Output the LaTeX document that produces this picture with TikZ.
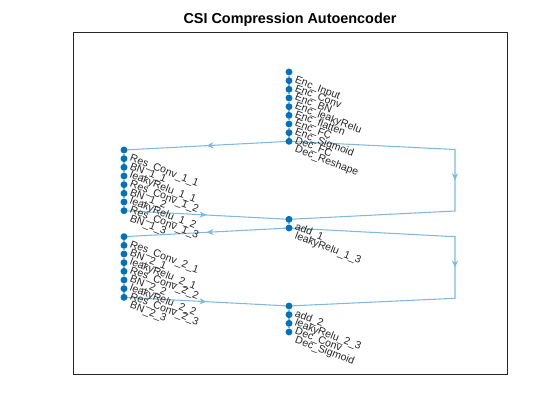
\documentclass[tikz,border=0pt]{standalone}
\usepackage{fontspec}
\setmainfont{Liberation Sans}
\usetikzlibrary{arrows.meta,decorations.markings,backgrounds}
\definecolor{nodeblue}{rgb}{0,0.447,0.741}
\definecolor{edgeblue}{rgb}{0.5,0.7235,0.8705}
\definecolor{axgray}{rgb}{0.15,0.15,0.15}
\begin{document}
\begin{tikzpicture}[
  x=0.75pt, y=-0.75pt,
  layer/.style={circle, fill=nodeblue, inner sep=0pt, minimum size=5.2pt},
  lbl/.style={rotate=-21, anchor=base west, inner sep=0pt, text=axgray, label distance=6pt, font=\fontsize{7.9}{9}\selectfont},
  chainlink/.style={draw=edgeblue, line width=0.8pt},
  link/.style={chainlink, postaction={decorate}, decoration={markings, mark=at position 0.5 with {\arrow[edgeblue]{Stealth[length=5.2pt,width=4.6pt,inset=1.6pt]}}}},
  node distance=6.5pt
]
\useasboundingbox (0,0) rectangle (560,420);
\node[font=\bfseries\fontsize{10.8}{13}\selectfont] (title) at (290,20) {CSI Compression Autoencoder};
\draw[axgray, line width=0.6pt] (73,32) rectangle (507,374);

\node[layer, label={[lbl]-49:Enc\_Input}] (encin) at (289,72) {};
\node[layer, below of=encin, label={[lbl]-49:Enc\_Conv}] (encconv) {};
\node[layer, below of=encconv, label={[lbl]-49:Enc\_BN}] (encbn) {};
\node[layer, below of=encbn, label={[lbl]-49:Enc\_leakyRelu}] (encrelu) {};
\node[layer, below of=encrelu, label={[lbl]-49:Enc\_flatten}] (encflat) {};
\node[layer, below of=encflat, label={[lbl]-49:Enc\_FC}] (encfc) {};
\node[layer, below of=encfc, label={[lbl]-49:Enc\_Sigmoid}] (encsig) {};
\node[layer, below of=encsig, label={[lbl]-49:Dec\_FC}] (decfc) {};
\node[layer, below of=decfc, label={[lbl]-49:Dec\_Reshape}] (decresh) {};

\node[layer, label={[lbl]-49:Res\_Conv\_1\_1}] (res11) at (124,150) {};
\node[layer, below of=res11, label={[lbl]-49:BN\_1\_1}] (bn11) {};
\node[layer, below of=bn11, label={[lbl]-49:leakyRelu\_1\_1}] (relu11) {};
\node[layer, below of=relu11, label={[lbl]-49:Res\_Conv\_1\_2}] (res12) {};
\node[layer, below of=res12, label={[lbl]-49:BN\_1\_2}] (bn12) {};
\node[layer, below of=bn12, label={[lbl]-49:leakyRelu\_1\_2}] (relu12) {};
\node[layer, below of=relu12, label={[lbl]-49:Res\_Conv\_1\_3}] (res13) {};
\node[layer, below of=res13, label={[lbl]-49:BN\_1\_3}] (bn13) {};

\node[layer, below of=decresh, node distance=58.5pt, label={[lbl]-49:add\_1}] (adda) {};
\node[layer, below of=adda, label={[lbl]-49:leakyRelu\_1\_3}] (relu13) {};

\node[layer, below of=bn13, node distance=19.5pt, label={[lbl]-49:Res\_Conv\_2\_1}] (res21) {};
\node[layer, below of=res21, label={[lbl]-49:BN\_2\_1}] (bn21) {};
\node[layer, below of=bn21, label={[lbl]-49:leakyRelu\_2\_1}] (relu21) {};
\node[layer, below of=relu21, label={[lbl]-49:Res\_Conv\_2\_2}] (res22) {};
\node[layer, below of=res22, label={[lbl]-49:BN\_2\_2}] (bn22) {};
\node[layer, below of=bn22, label={[lbl]-49:leakyRelu\_2\_2}] (relu22) {};
\node[layer, below of=relu22, label={[lbl]-49:Res\_Conv\_2\_3}] (res23) {};
\node[layer, below of=res23, label={[lbl]-49:BN\_2\_3}] (bn23) {};

\node[layer, below of=relu13, node distance=58.5pt, label={[lbl]-49:add\_2}] (addb) {};
\node[layer, below of=addb, label={[lbl]-49:leakyRelu\_2\_3}] (relu23) {};
\node[layer, below of=relu23, label={[lbl]-49:Dec\_Conv}] (decconv) {};
\node[layer, below of=decconv, label={[lbl]-49:Dec\_Sigmoid}] (decsig) {};

\coordinate (skipatop) at (455,149.5);
\coordinate (skipabot) at (455,211);
\coordinate (skipbtop) at (455,236.7);
\coordinate (skipbbot) at (455,298.3);

\begin{scope}[on background layer]
\draw[chainlink] (encin) -- (encconv) -- (encbn) -- (encrelu) -- (encflat) -- (encfc) -- (encsig) -- (decfc) -- (decresh);
\draw[chainlink] (res11) -- (bn11) -- (relu11) -- (res12) -- (bn12) -- (relu12) -- (res13) -- (bn13);
\draw[chainlink] (res21) -- (bn21) -- (relu21) -- (res22) -- (bn22) -- (relu22) -- (res23) -- (bn23);
\draw[chainlink] (adda) -- (relu13);
\draw[chainlink] (addb) -- (relu23) -- (decconv) -- (decsig);
\draw[link] (decresh.center) -- (res11.center);
\draw[link] (bn13.center) -- (adda.center);
\draw[link] (relu13.center) -- (res21.center);
\draw[link] (bn23.center) -- (addb.center);
\draw[link] (decresh.center) -- (skipatop) -- (skipabot) -- (adda.center);
\draw[link] (relu13.center) -- (skipbtop) -- (skipbbot) -- (addb.center);
\end{scope}
\end{tikzpicture}
\end{document}
